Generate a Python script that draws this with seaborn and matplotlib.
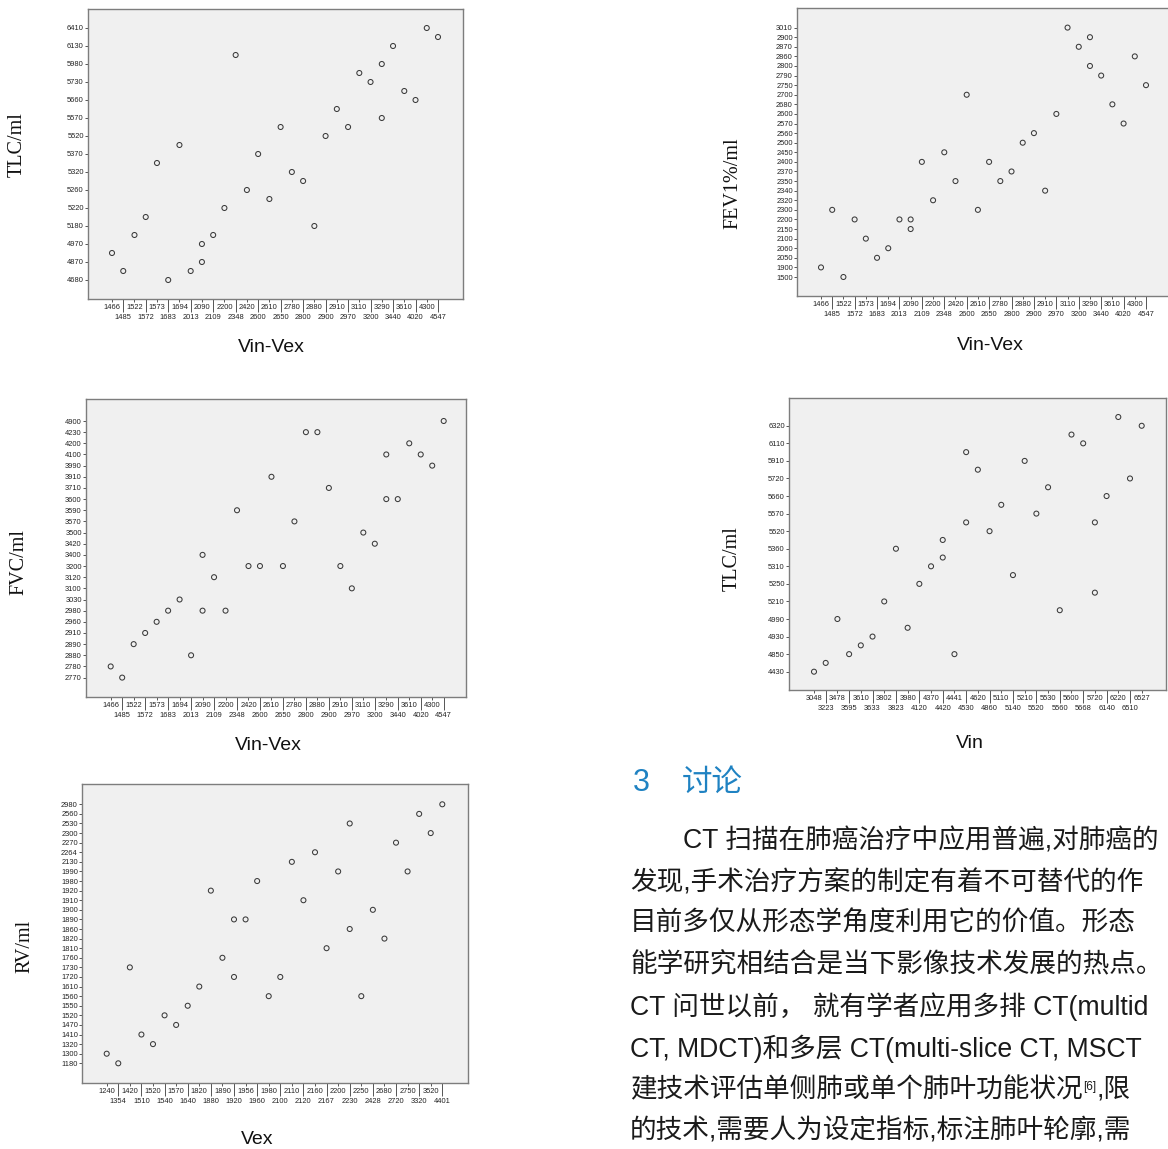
import matplotlib
matplotlib.use("Agg")
import pandas as pd
import matplotlib.pyplot as plt
import seaborn as sns

# values (both axes are category axes)
vin_vex = [1466, 1485, 1522, 1572, 1573, 1683, 1694, 2013, 2090, 2090, 2109, 2200,
           2348, 2420, 2600, 2610, 2650, 2780, 2800, 2880, 2900, 2910, 2970, 3110,
           3200, 3290, 3290, 3440, 3610, 4020, 4300, 4547]
tlc_a = [4920, 4760, 5060, 5200, 5350, 4680, 5430, 4760, 4970, 4870, 5060, 5220,
         6040, 5260, 5370, 5240, 5550, 5320, 5290, 5180, 5520, 5610, 5550, 5810,
         5730, 5980, 5570, 6130, 5700, 5660, 6410, 6300]
fev1 = [1900, 2300, 1500, 2200, 2100, 2050, 2060, 2200, 2200, 2150, 2400, 2320,
        2450, 2350, 2700, 2300, 2400, 2350, 2370, 2500, 2560, 2340, 2600, 3010,
        2870, 2900, 2800, 2790, 2680, 2570, 2860, 2750]
fvc = [2780, 2770, 2890, 2910, 2960, 2980, 3030, 2880, 3400, 2980, 3120, 2980,
       3590, 3200, 3200, 3910, 3200, 3570, 4230, 4230, 3710, 3200, 3100, 3500,
       3420, 4100, 3600, 3600, 4200, 4100, 3990, 4900]

vin = [3048, 3223, 3478, 3595, 3610, 3633, 3802, 3823, 3980, 4120, 4370, 4420,
       4420, 4441, 4530, 4530, 4620, 4860, 5110, 5140, 5210, 5520, 5530, 5560,
       5600, 5668, 5720, 5720, 6140, 6220, 6510, 6527]
tlc_b = [4430, 4600, 4990, 4850, 4890, 4930, 5210, 5360, 4960, 5250, 5310, 5400,
         5340, 4850, 6000, 5550, 5800, 5520, 5610, 5280, 5910, 5570, 5690, 5100,
         6200, 6110, 5550, 5230, 5660, 6400, 5720, 6320]

vex = [1240, 1354, 1420, 1510, 1520, 1540, 1570, 1640, 1820, 1880, 1890, 1920,
       1920, 1956, 1960, 1980, 2100, 2110, 2120, 2160, 2167, 2200, 2230, 2230,
       2250, 2428, 2680, 2720, 2750, 3320, 3520, 4401]
rv = [1300, 1180, 1730, 1410, 1320, 1520, 1470, 1550, 1610, 1920, 1760, 1890,
      1720, 1890, 1980, 1560, 1720, 2130, 1910, 2264, 1810, 1990, 2530, 1860,
      1560, 1900, 1820, 2270, 1990, 2560, 2300, 2980]

heading = ["3", "讨论"]
para = ["CT 扫描在肺癌治疗中应用普遍,对肺癌的",
        "发现,手术治疗方案的制定有着不可替代的作",
        "目前多仅从形态学角度利用它的价值。形态",
        "能学研究相结合是当下影像技术发展的热点。",
        "CT 问世以前， 就有学者应用多排 CT(multid",
        "CT, MDCT)和多层 CT(multi-slice CT, MSCT",
        "建技术评估单侧肺或单个肺叶功能状况",
        "的技术,需要人为设定指标,标注肺叶轮廓,需"]
cite = ["[6]", ",限"]

sns.set_style("ticks")
plt.rcParams["font.family"] = ["Liberation Sans", "Noto Sans CJK SC"]

W, H = 1168, 1149
fig = plt.figure(figsize=(W / 100, H / 100), dpi=100)

# full page axes in pixel units for the article text
tax = fig.add_axes([0, 0, 1, 1])
tax.set_xlim(0, W)
tax.set_ylim(H, 0)
tax.axis("off")


def box(l, t, r, b):
    return [l / W, 1 - b / H, (r - l) / W, (b - t) / H]


def lims(n, size, m_lo, m_hi):
    step = (size - m_lo - m_hi) / (n - 1)
    return -m_lo / step, (n - 1) + m_hi / step


def panel(px, xv, yv, xlab, ylab, ystep, xm, ym, xlab_at, ylab_at):
    l, t, r, b = px
    ax = fig.add_axes(box(l, t, r, b))
    xc = pd.Categorical(xv, categories=sorted(set(xv)))
    yc = pd.Categorical(yv, categories=sorted(set(yv)))
    df = pd.DataFrame({"x": xc.codes, "y": yc.codes})
    sns.scatterplot(data=df, x="x", y="y", ax=ax, s=13, marker="o",
                    facecolor="none", edgecolor="#3a3a3a", linewidth=0.75)
    nx, ny = len(xc.categories), len(yc.categories)
    ax.set_xlim(*lims(nx, r - l, *xm))
    ax.set_ylim(*lims(ny, b - t, *ym))

    # SPSS style: labels alternate on two rows, odd ones hang on long ticks
    xt = [str(v) for v in xc.categories]
    ax.set_xticks(range(0, nx, 2), xt[0::2])
    ax.set_xticks(range(1, nx, 2), xt[1::2], minor=True)
    yt = [str(v) for v in yc.categories]
    ax.set_yticks(range(0, ny, ystep), yt[0::ystep])
    ax.tick_params(axis="x", which="major", length=2.5, width=0.7, pad=1.0)
    ax.tick_params(axis="x", which="minor", length=9.5, width=0.7, pad=1.2)
    ax.tick_params(axis="y", which="major", length=2.0, width=0.7, pad=1.0)
    ax.tick_params(axis="both", which="both", labelsize=5.4,
                   color="#555555", labelcolor="#222222")

    ax.set_facecolor("#f0f0f0")
    for sp in ax.spines.values():
        sp.set_color("#7d7d7d")
        sp.set_linewidth(1.0)

    ax.set_xlabel(xlab, fontsize=14, va="center", color="#111111")
    ax.xaxis.set_label_coords((xlab_at[0] - l) / (r - l), (b - xlab_at[1]) / (b - t))
    ax.set_ylabel(ylab, family="Liberation Serif", fontsize=14.5, va="center",
                  color="#111111")
    ax.yaxis.set_label_coords((ylab_at[0] - l) / (r - l), (b - ylab_at[1]) / (b - t))
    return ax


panel((88, 9, 463, 299), vin_vex, tlc_a, "Vin-Vex", "TLC/ml", 2,
      (24, 25), (19, 19), (271, 347), (17, 145))
panel((797, 8, 1171, 296), vin_vex, fev1, "Vin-Vex", "FEV1%/ml", 1,
      (24, 25), (19, 19.6), (990, 345), (733, 183))
panel((86, 399, 466, 697), vin_vex, fvc, "Vin-Vex", "FVC/ml", 1,
      (24.7, 22.3), (19.4, 22), (268, 745), (19, 562))
panel((789, 398, 1166, 690), vin, tlc_b, "Vin", "TLC/ml", 2,
      (25, 24.3), (18.3, 19), (970, 743), (732, 559))
panel((82, 784, 468, 1083), vex, rv, "Vex", "RV/ml", 1,
      (24.7, 25.7), (19.7, 20.3), (257, 1140), (25, 946))

# article text on the right
blue = "#1f82c2"
tax.text(633, 783, heading[0], fontsize=22, color=blue, va="center", ha="left")
tax.text(682, 783, heading[1], fontsize=22, color=blue, va="center", ha="left")

body = 19.2
line_y = [841 + 41.5 * k for k in range(len(para))]
for k, (s, y) in enumerate(zip(para, line_y)):
    x0 = 683 if k == 0 else 630
    t = tax.text(x0, y, s, fontsize=body, color="#1a1a1a", va="center", ha="left")
    if k == 6:
        sup = tax.annotate(cite[0], xy=(1, 1), xycoords=t, xytext=(0.5, -3),
                           textcoords="offset points", fontsize=8.5,
                           color="#1a1a1a", va="top", ha="left")
        tax.annotate(cite[1], xy=(1, 0), xycoords=(sup, t), fontsize=body,
                     color="#1a1a1a", va="bottom", ha="left")

fig.savefig("out.png", dpi=100)
